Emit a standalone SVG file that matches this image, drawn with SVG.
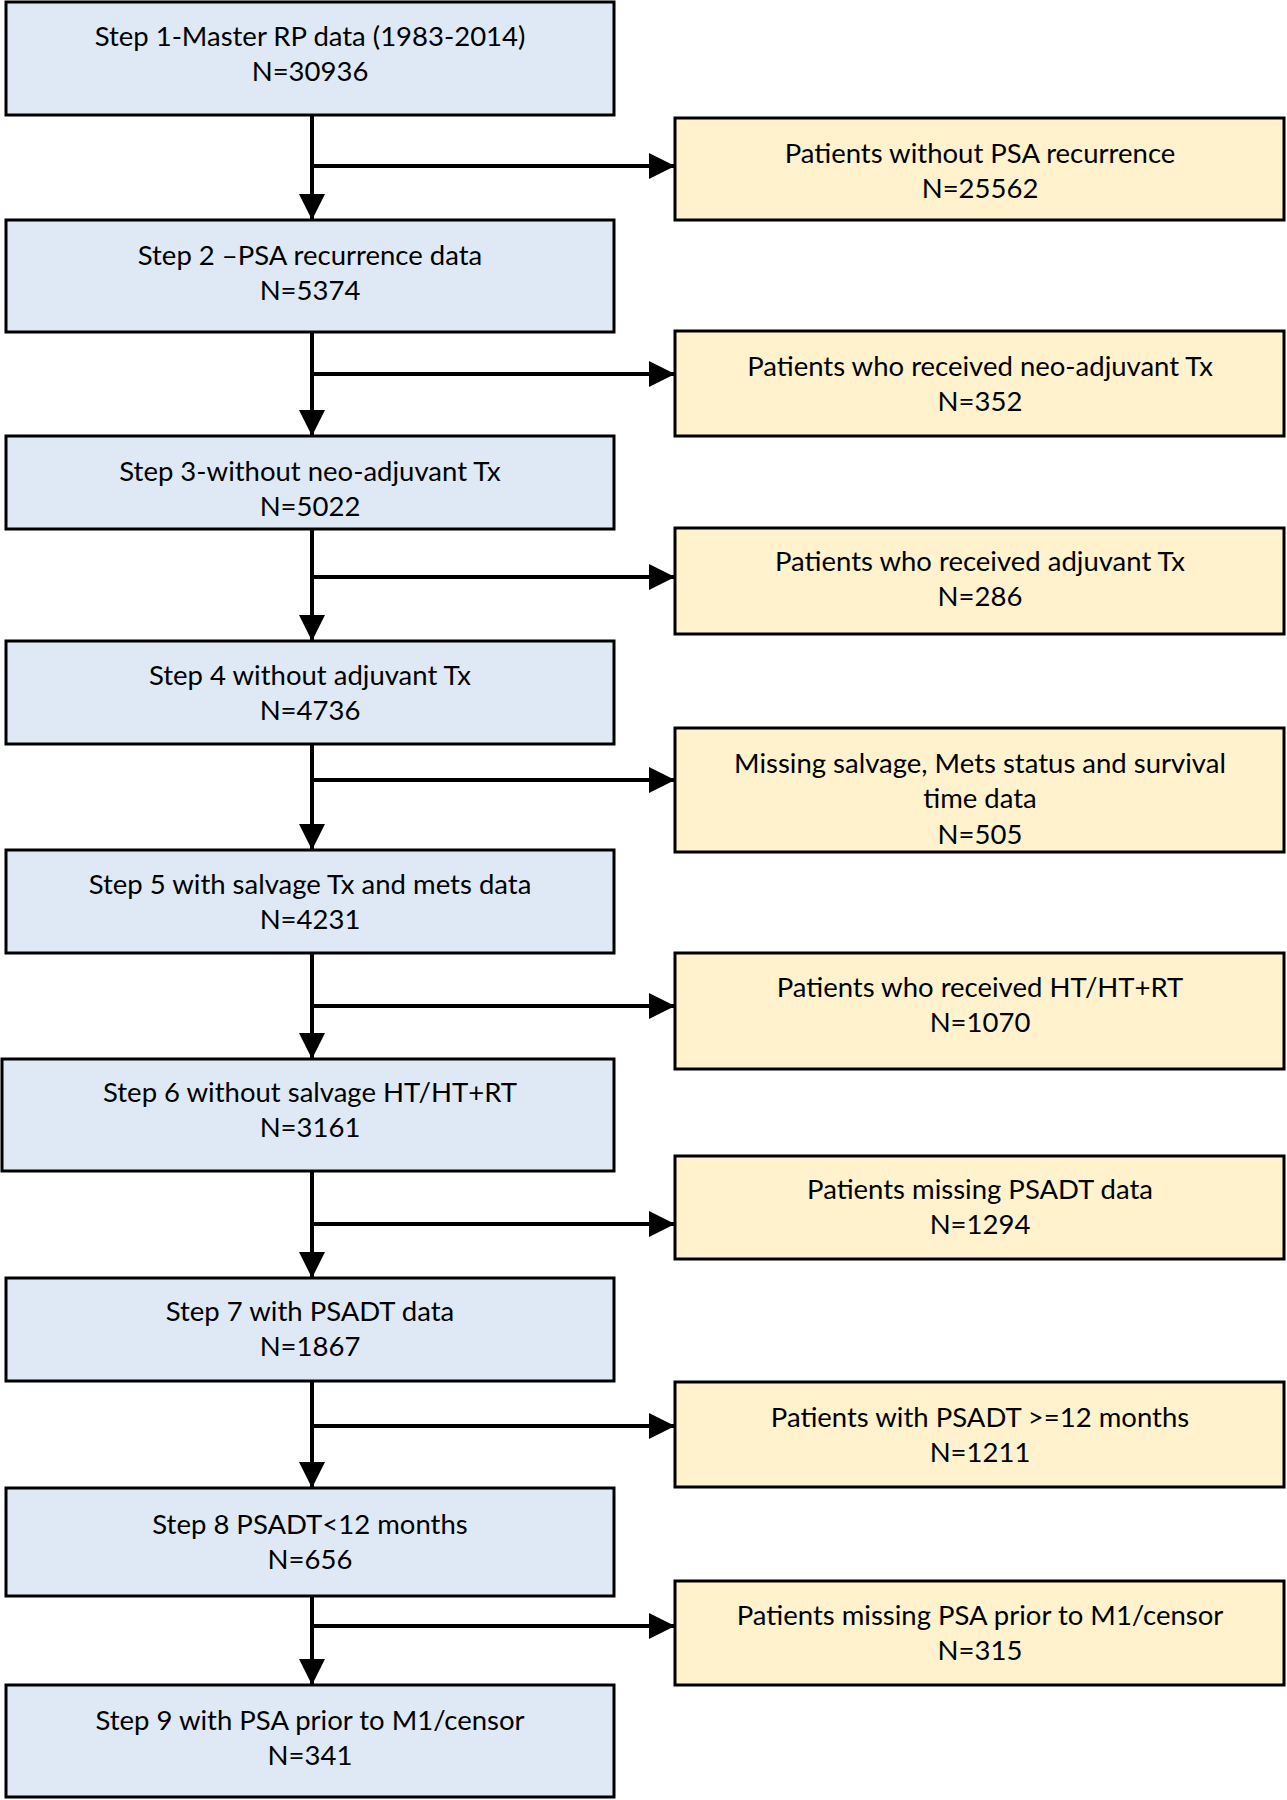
<svg xmlns="http://www.w3.org/2000/svg" width="1287" height="1800" viewBox="0 0 1287 1800">
<defs>
<style>
.b{fill:#dee9f5;stroke:#000;stroke-width:3}
.y{fill:#fff2cd;stroke:#000;stroke-width:3}
text{font-family:Lato,"Liberation Sans",sans-serif;font-size:27.5px;fill:#000;text-anchor:middle}
.c{stroke:#000;stroke-width:4;fill:none}
</style>
<marker id="ah" markerUnits="userSpaceOnUse" markerWidth="26" markerHeight="26" refX="25" refY="13" orient="auto" viewBox="0 0 26 26">
<path d="M0,0 L26,13 L0,26 z" fill="#000"/>
</marker>
</defs>
<g id="connectors">
<path class="c" d="M312,115 V219" marker-end="url(#ah)"/>
<path class="c" d="M312,166 H674" marker-end="url(#ah)"/>
<path class="c" d="M312,332 V435" marker-end="url(#ah)"/>
<path class="c" d="M312,374 H674" marker-end="url(#ah)"/>
<path class="c" d="M312,529 V640" marker-end="url(#ah)"/>
<path class="c" d="M312,577 H674" marker-end="url(#ah)"/>
<path class="c" d="M312,744 V849" marker-end="url(#ah)"/>
<path class="c" d="M312,780 H674" marker-end="url(#ah)"/>
<path class="c" d="M312,953 V1058" marker-end="url(#ah)"/>
<path class="c" d="M312,1006 H674" marker-end="url(#ah)"/>
<path class="c" d="M312,1171 V1277" marker-end="url(#ah)"/>
<path class="c" d="M312,1224 H674" marker-end="url(#ah)"/>
<path class="c" d="M312,1381 V1487" marker-end="url(#ah)"/>
<path class="c" d="M312,1426 H674" marker-end="url(#ah)"/>
<path class="c" d="M312,1596 V1684" marker-end="url(#ah)"/>
<path class="c" d="M312,1626 H674" marker-end="url(#ah)"/>
</g>
<g id="step1"><rect class="b" x="6" y="2" width="608" height="113"/><text x="310" y="46">Step 1-Master RP data (1983-2014)</text><text x="310" y="81">N=30936</text></g>
<g id="excl1"><rect class="y" x="675" y="118" width="609" height="102"/><text x="980" y="163">Patients without PSA recurrence</text><text x="980" y="198">N=25562</text></g>
<g id="step2"><rect class="b" x="6" y="220" width="608" height="112"/><text x="310" y="265">Step 2 –PSA recurrence data</text><text x="310" y="300">N=5374</text></g>
<g id="excl2"><rect class="y" x="675" y="331" width="609" height="105"/><text x="980" y="376">Patients who received neo-adjuvant Tx</text><text x="980" y="411">N=352</text></g>
<g id="step3"><rect class="b" x="6" y="436" width="608" height="93"/><text x="310" y="481">Step 3-without neo-adjuvant Tx</text><text x="310" y="516">N=5022</text></g>
<g id="excl3"><rect class="y" x="675" y="528" width="609" height="106"/><text x="980" y="571">Patients who received adjuvant Tx</text><text x="980" y="606">N=286</text></g>
<g id="step4"><rect class="b" x="6" y="641" width="608" height="103"/><text x="310" y="685">Step 4 without adjuvant Tx</text><text x="310" y="720">N=4736</text></g>
<g id="excl4"><rect class="y" x="675" y="728" width="609" height="124"/><text x="980" y="773">Missing salvage, Mets status and survival</text><text x="980" y="808">time data</text><text x="980" y="844">N=505</text></g>
<g id="step5"><rect class="b" x="6" y="850" width="608" height="103"/><text x="310" y="894">Step 5 with salvage Tx and mets data</text><text x="310" y="929">N=4231</text></g>
<g id="excl5"><rect class="y" x="675" y="953" width="609" height="116"/><text x="980" y="997">Patients who received HT/HT+RT</text><text x="980" y="1032">N=1070</text></g>
<g id="step6"><rect class="b" x="2" y="1059" width="612" height="112"/><text x="310" y="1102">Step 6 without salvage HT/HT+RT</text><text x="310" y="1137">N=3161</text></g>
<g id="excl6"><rect class="y" x="675" y="1156" width="609" height="103"/><text x="980" y="1199">Patients missing PSADT data</text><text x="980" y="1234">N=1294</text></g>
<g id="step7"><rect class="b" x="6" y="1278" width="608" height="103"/><text x="310" y="1321">Step 7 with PSADT data</text><text x="310" y="1356">N=1867</text></g>
<g id="excl7"><rect class="y" x="675" y="1382" width="609" height="105"/><text x="980" y="1427">Patients with PSADT &gt;=12 months</text><text x="980" y="1462">N=1211</text></g>
<g id="step8"><rect class="b" x="6" y="1488" width="608" height="108"/><text x="310" y="1534">Step 8 PSADT&lt;12 months</text><text x="310" y="1569">N=656</text></g>
<g id="excl8"><rect class="y" x="675" y="1581" width="609" height="104"/><text x="980" y="1625">Patients missing PSA prior to M1/censor</text><text x="980" y="1660">N=315</text></g>
<g id="step9"><rect class="b" x="6" y="1685" width="608" height="112"/><text x="310" y="1730">Step 9 with PSA prior to M1/censor</text><text x="310" y="1765">N=341</text></g>
</svg>
